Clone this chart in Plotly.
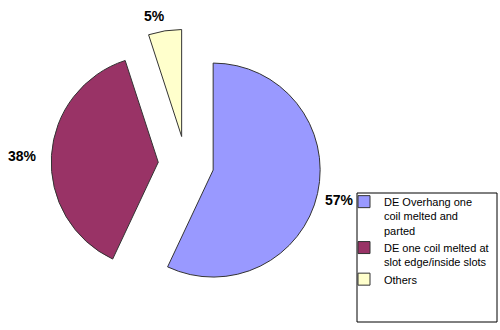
import plotly.graph_objects as go

labels = ["DE Overhang one<br>coil melted and<br>parted", "DE one coil melted at<br>slot edge/inside slots", "Others"]
values = [57, 38, 5]
colors = ["#9999FF", "#993366", "#FFFFCC"]
pct_text = [f"{v}%" for v in values]
# label anchor positions (paper coords) for the percentage labels
label_pos = [(0.678, 0.394), (0.044, 0.526), (0.308, 0.952)]

W, H = 500, 330
cx, cy, r, pull = 186, 164, 107, 0.26
half = r * (1 + pull)

fig = go.Figure()
fig.add_trace(go.Pie(
    labels=labels,
    values=values,
    sort=False,
    direction="clockwise",
    rotation=0,
    pull=[pull] * len(values),
    marker=dict(colors=colors, line=dict(color="#333333", width=1)),
    textinfo="none",
    hoverinfo="label+percent",
    domain=dict(x=[(cx - half) / W, (cx + half) / W],
                y=[(H - cy - half) / H, (H - cy + half) / H]),
))

for t, (x, y) in zip(pct_text, label_pos):
    fig.add_annotation(x=x, y=y, xref="paper", yref="paper", text=f"<b>{t}</b>",
                       xanchor="center", yanchor="middle",
                       showarrow=False, font=dict(family="Liberation Sans, Arial", size=14, color="black"))

fig.add_shape(type="rect", xref="paper", yref="paper",
              x0=357 / W, x1=497 / W, y0=(H - 322) / H, y1=(H - 193) / H,
              line=dict(color="black", width=1), fillcolor="rgba(0,0,0,0)")

fig.update_layout(
    width=W, height=H,
    margin=dict(l=0, r=0, t=0, b=0, autoexpand=False),
    paper_bgcolor="white",
    plot_bgcolor="white",
    showlegend=True,
    legend=dict(x=344 / W, y=(H - 188) / H, xanchor="left", yanchor="top",
                xref="container", yref="container",
                valign="top", font=dict(family="Liberation Sans, Arial", size=11, color="black"),
                bgcolor="rgba(0,0,0,0)", borderwidth=0, itemwidth=30),
)

fig.write_html("out.html")
